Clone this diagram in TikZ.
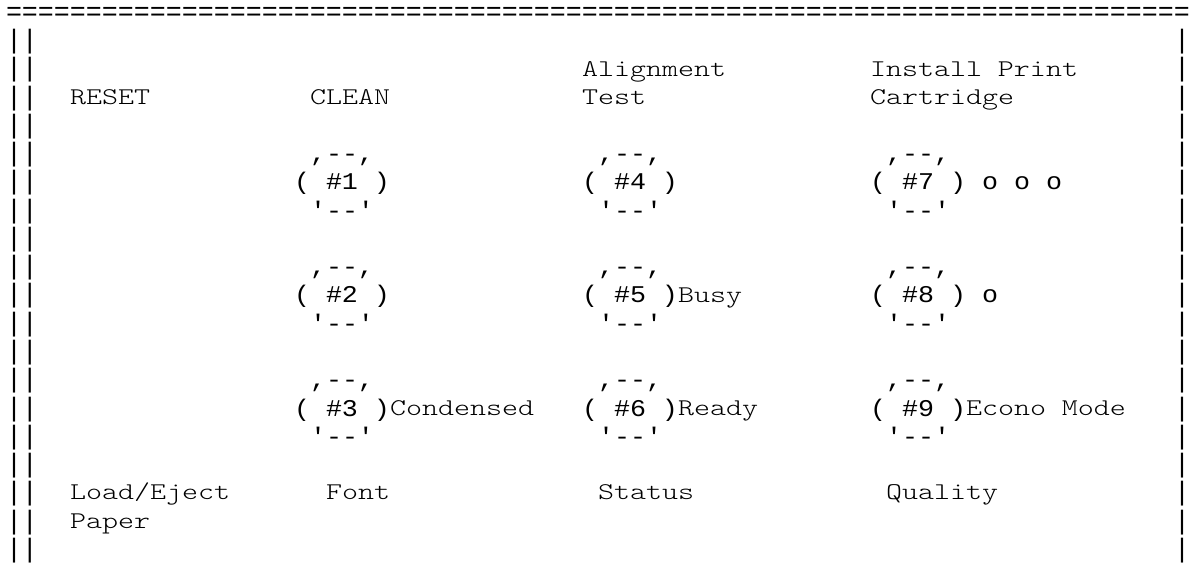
\documentclass[tikz,border=0pt]{standalone}
\usepackage{fontspec}
\newfontfamily\rulefont[Ligatures=TeXOff]{Liberation Mono}
% button art: monospace, widened to an 8pt advance
\newfontfamily\artfont[Ligatures=TeXOff,FakeStretch=1.111]{Liberation Mono}
% typewriter labels, widened so that one character fills one 8pt cell
\newfontfamily\labelfont[Ligatures=TeXOff,FakeStretch=1.27]{lmmonolt10-regular.otf}
\begin{document}
\begin{tikzpicture}[x=0.5pt,y=-0.5pt,
  % character grid: 16px columns, 28.25px rows (baseline positions)
  cell/.style 2 args={at={({6+16*(#1)},{20.5+28.25*(#2)})}},
  border/.style={font=\rulefont\fontsize{13.333pt}{14pt}\selectfont,
    anchor=base west, inner sep=0pt, outer sep=0pt, text=black},
  word/.style={font=\labelfont\fontsize{12pt}{14pt}\selectfont,
    anchor=base west, inner sep=0pt, outer sep=0pt, text=black,
    yshift=0.4pt},
  art/.style={font=\artfont\fontsize{12pt}{14pt}\selectfont,
    anchor=base west, inner sep=0pt, outer sep=0pt, text=black}]
\fill[white] (0,0) rectangle (1189,572);
\useasboundingbox (0,0) rectangle (1189,572);

% top rule
\node[border, cell={0}{0}] (rule) {==========================================================================};

% side borders
\foreach \r in {1,...,19}{
  \node[border, cell={0}{\r}] (lb\r) {||};
  \node[border, cell={73}{\r}] (rb\r) {|};
}

% top labels
\node[word, cell={36}{2}] (align)   {Alignment};
\node[word, cell={54}{2}] (install) {Install Print};
\node[word, cell={4}{3}]  (reset)   {RESET};
\node[word, cell={19}{3}] (clean)   {CLEAN};
\node[word, cell={36}{3}] (test)    {Test};
\node[word, cell={54}{3}] (cartr)   {Cartridge};

% buttons: number / column / row
\foreach \n/\c/\r in {1/18/6, 2/18/10, 3/18/14,
                      4/36/6, 5/36/10, 6/36/14,
                      7/54/6, 8/54/10, 9/54/14}{
  \node[art, cell={\c+1}{\r-1}] (b\n top) {,--,};
  \node[art, cell={\c}{\r}]     (b\n)     {( \#\n\ )};
  \node[art, cell={\c+1}{\r+1}] (b\n bot) {'--'};
}

% indicators beside the buttons
\node[art,  cell={61}{6}]  (dots3) {o o o};
\node[art,  cell={61}{10}] (dots1) {o};
\node[word, cell={24}{14}] (cond)  {Condensed};
\node[word, cell={42}{10}] (busy)  {Busy};
\node[word, cell={42}{14}] (ready) {Ready};
\node[word, cell={60}{14}] (econo) {Econo Mode};

% bottom labels
\node[word, cell={4}{17}]  (load)    {Load/Eject};
\node[word, cell={4}{18}]  (paper)   {Paper};
\node[word, cell={20}{17}] (font)    {Font};
\node[word, cell={37}{17}] (status)  {Status};
\node[word, cell={55}{17}] (quality) {Quality};
\end{tikzpicture}
\end{document}
